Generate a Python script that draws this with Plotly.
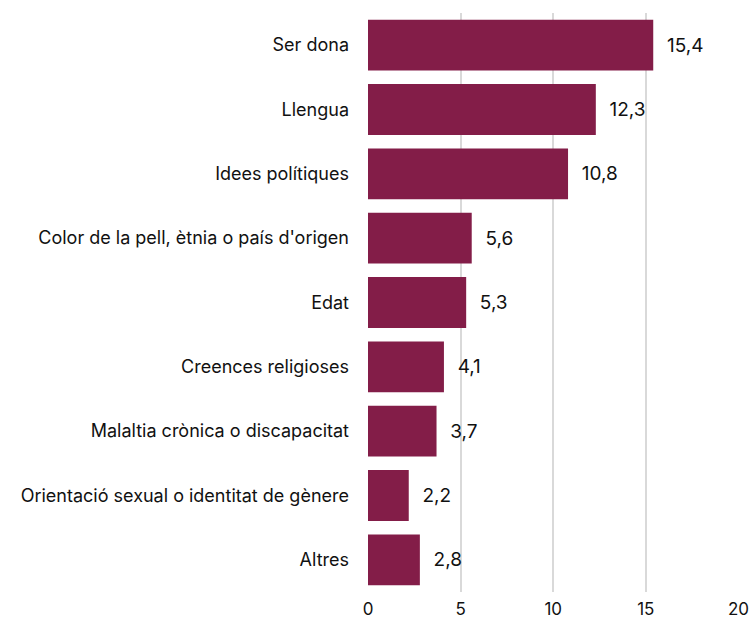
import plotly.graph_objects as go

categories = ["Ser dona", "Llengua", "Idees polítiques",
              "Color de la pell, ètnia o país d'origen", "Edat",
              "Creences religioses", "Malaltia crònica o discapacitat",
              "Orientació sexual o identitat de gènere", "Altres"]
values = [15.4, 12.3, 10.8, 5.6, 5.3, 4.1, 3.7, 2.2, 2.8]
tick_vals = [0, 5, 10, 15, 20]

fig = go.Figure(go.Bar(
    y=categories, x=values, orientation="h",
    marker=dict(color="#831D48", line=dict(width=0)),
    text=["  " + f"{v:.1f}".replace(".", ",") for v in values],
    textposition="outside", cliponaxis=False,
    textfont=dict(size=19, color="#111111", family="Inter"),
))
fig.update_layout(
    width=749, height=621,
    margin=dict(l=368, r=10, t=13, b=29, autoexpand=False),
    plot_bgcolor="white", paper_bgcolor="white",
    font=dict(family="Inter", size=18, color="#111111"),
    bargap=0.21, showlegend=False,
)
fig.update_xaxes(range=[0, 20.03], tickvals=tick_vals, showgrid=True,
                 gridcolor="#d9d9d9", gridwidth=2, zeroline=False,
                 showline=False, ticks="", tickfont=dict(size=17),
                 automargin=False, ticklabelstandoff=5,
                 ticklabeloverflow="allow")
fig.update_yaxes(autorange="reversed", showgrid=False, ticks="",
                 showline=False, ticklabelstandoff=18, tickfont=dict(size=18),
                 automargin=False)
fig.write_html("out.html", config={"displayModeBar": False},
               post_script="document.body.style.margin='0';document.body.style.overflow='hidden';")
